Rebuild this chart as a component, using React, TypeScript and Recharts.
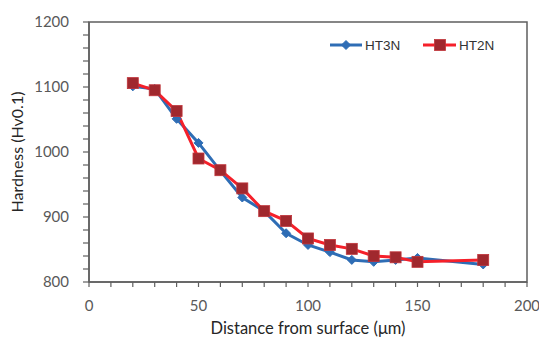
import React from 'react';
import { LineChart, Line, XAxis, YAxis, ReferenceArea, Label } from 'recharts';

const distances = [20, 30, 40, 50, 60, 70, 80, 90, 100, 110, 120, 130, 140, 150, 180];
const ht3n = [1101, 1097, 1051, 1014, 971, 930, 909, 875, 857, 846, 834, 831, 834, 837, 827];
const ht2n = [1106, 1095, 1063, 990, 972, 944, 909, 894, 867, 857, 851, 840, 838, 831, 834];
const xTicks = [0, 10, 20, 30, 40, 50, 60, 70, 80, 90, 100, 110, 120, 130, 140, 150, 160, 170, 180, 190, 200];
const yTicks = [800, 820, 840, 860, 880, 900, 920, 940, 960, 980, 1000, 1020, 1040, 1060, 1080, 1100, 1120, 1140, 1160, 1180, 1200];

const data = distances.map((d, i) => ({ x: d, ht3n: ht3n[i], ht2n: ht2n[i] }));

const BLUE = '#2E6DB5';
const RED = '#F5202A';
const SQUARE = '#A0282E';
const AXIS = '#5f5f5f';
const FONT = 'Lato, "Open Sans", sans-serif';

const Diamond = (props: any) => {
  const { cx, cy } = props;
  if (cx == null || cy == null) return null;
  const r = 4.5;
  return <path d={`M${cx},${cy - r}L${cx + r},${cy}L${cx},${cy + r}L${cx - r},${cy}Z`} fill={BLUE} stroke={BLUE} strokeWidth={1} />;
};

const Square = (props: any) => {
  const { cx, cy } = props;
  if (cx == null || cy == null) return null;
  const s = 11;
  return <rect x={cx - s / 2} y={cy - s / 2} width={s} height={s} fill={SQUARE} stroke="#C0343A" strokeWidth={0.8} />;
};

const YTick = (props: any) => {
  const { x, y, payload } = props;
  if (payload.value % 100 !== 0) return null;
  return (
    <text x={x} y={y} dy={5} textAnchor="end" fill="#595959" fontSize={15} fontFamily={FONT}>
      {payload.value}
    </text>
  );
};

const XTick = (props: any) => {
  const { x, y, payload } = props;
  if (payload.value % 50 !== 0) return null;
  return (
    <text x={x} y={y} dy={10} textAnchor="middle" fill="#595959" fontSize={15} fontFamily={FONT}>
      {payload.value}
    </text>
  );
};

const LegendOverlay = () => (
  <svg width={180} height={20} style={{ position: 'absolute', left: 328, top: 35 }}>
    <line x1={2} y1={10} x2={34} y2={10} stroke={BLUE} strokeWidth={3} />
    <Diamond cx={18} cy={10} />
    <text x={37} y={15} fontSize={13.5} fill="#333" fontFamily='"Liberation Sans", Arial, sans-serif'>HT3N</text>
    <line x1={95} y1={10} x2={128} y2={10} stroke={RED} strokeWidth={3} />
    <Square cx={112} cy={10} />
    <text x={131} y={15} fontSize={13.5} fill="#333" fontFamily='"Liberation Sans", Arial, sans-serif'>HT2N</text>
  </svg>
);

export default function App() {
  return (
    <div style={{ position: 'absolute', left: 0, top: 0, width: 539, height: 338, background: '#fff' }}>
      <LineChart width={539} height={338} data={data} margin={{ top: 22, right: 12, bottom: 0, left: 0 }}>
        <ReferenceArea x1={0} x2={200} y1={800} y2={1200} fill="none" stroke={AXIS} strokeWidth={1.5} ifOverflow="visible" />
        <XAxis
          dataKey="x"
          type="number"
          domain={[0, 200]}
          ticks={xTicks}
          interval={0}
          tick={<XTick />}
          tickSize={5}
          tickMargin={14}
          height={56}
          stroke={AXIS}
          axisLine={{ stroke: AXIS, strokeWidth: 1.5 }}
          tickLine={{ stroke: AXIS, strokeWidth: 1.2 }}
        >
          <Label value="Distance from surface (μm)" position="insideBottom" offset={4} fill="#262626" fontSize={16.5} fontFamily={FONT} />
        </XAxis>
        <YAxis
          type="number"
          domain={[800, 1200]}
          ticks={yTicks}
          interval={0}
          tick={<YTick />}
          tickSize={6}
          tickMargin={14}
          width={89}
          stroke={AXIS}
          axisLine={{ stroke: AXIS, strokeWidth: 1.5 }}
          tickLine={{ stroke: AXIS, strokeWidth: 1.2 }}
        >
          <Label value="Hardness (Hv0.1)" angle={-90} position="insideLeft" offset={17} style={{ textAnchor: 'middle' }} fill="#262626" fontSize={16} fontFamily={FONT} />
        </YAxis>
        <Line dataKey="ht3n" stroke={BLUE} strokeWidth={3} dot={<Diamond />} activeDot={false} isAnimationActive={false} />
        <Line dataKey="ht2n" stroke={RED} strokeWidth={3} dot={<Square />} activeDot={false} isAnimationActive={false} />
      </LineChart>
      <LegendOverlay />
    </div>
  );
}
